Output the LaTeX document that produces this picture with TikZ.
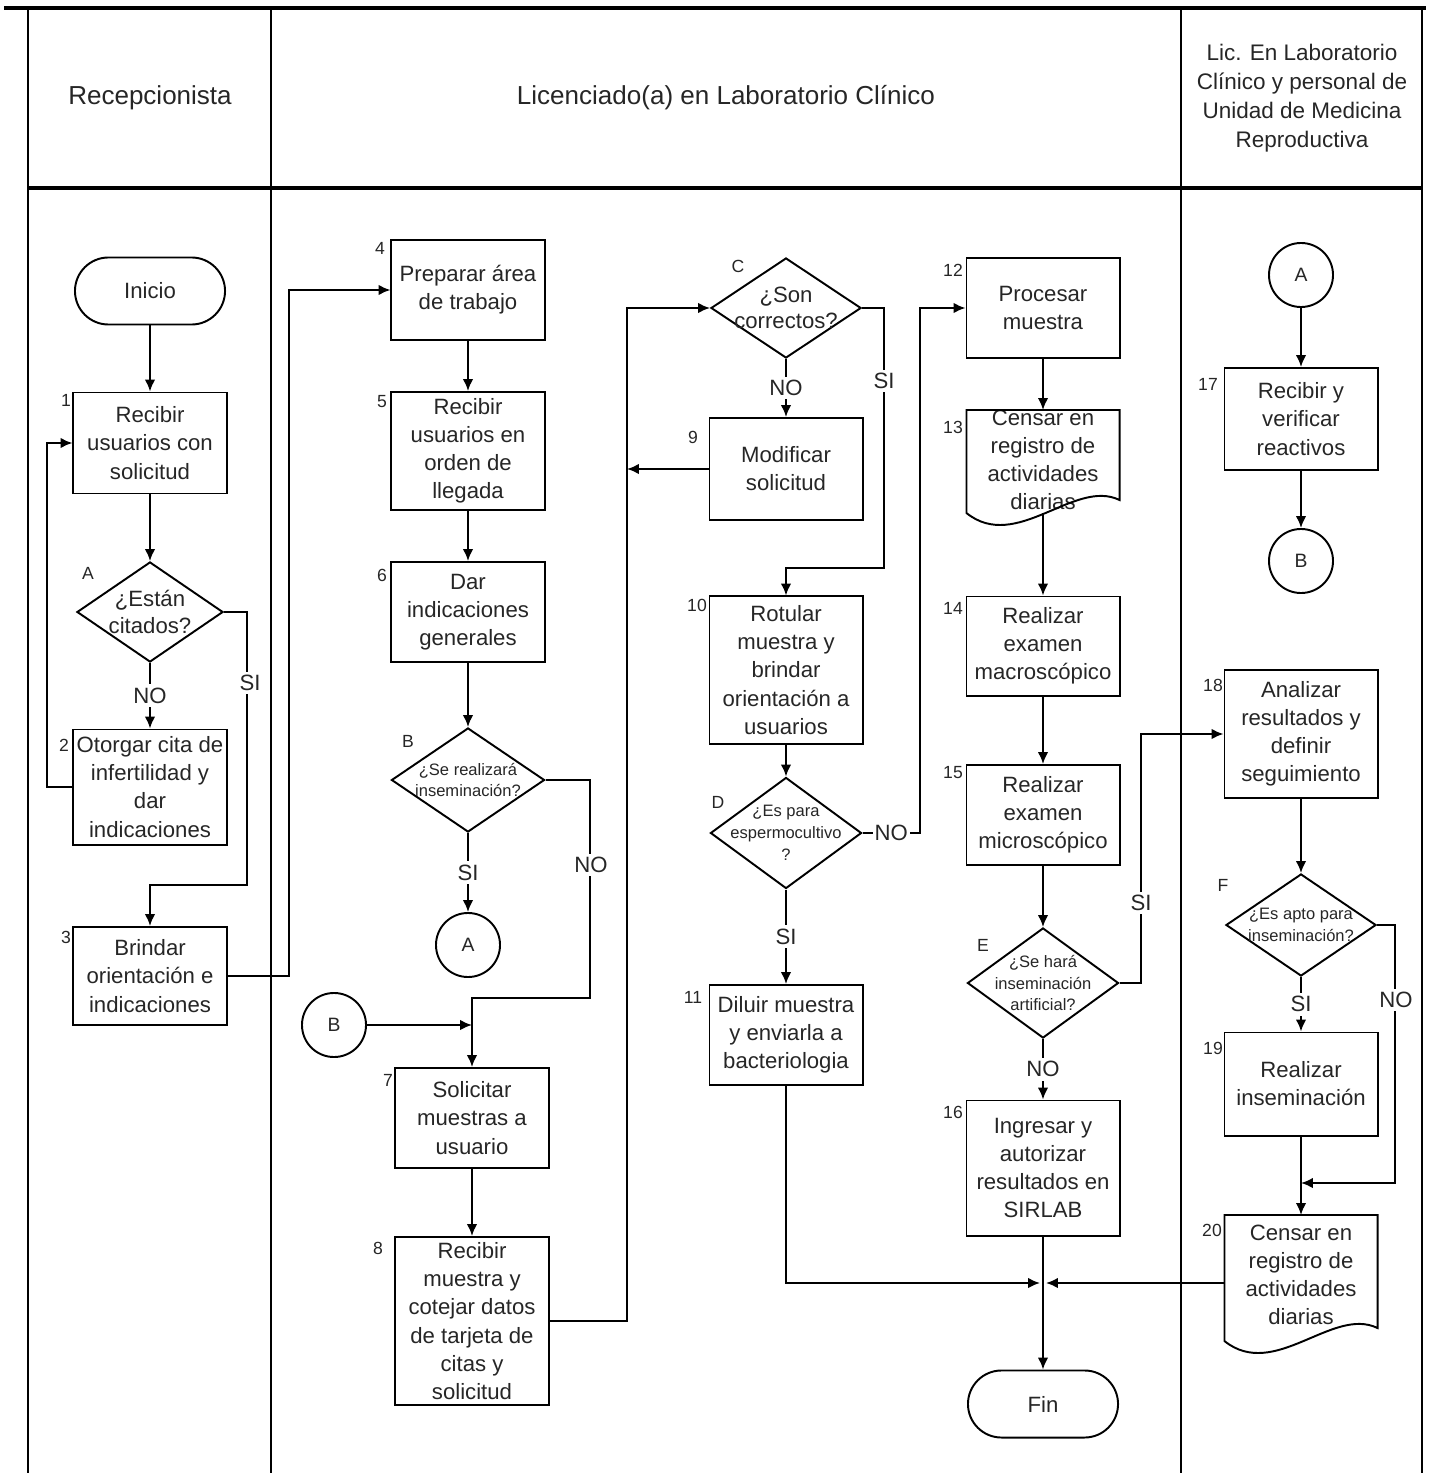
\documentclass[tikz,border=0pt]{standalone}
\usepackage{fontspec}
\setmainfont{Liberation Sans}
\usetikzlibrary{arrows.meta,shapes.geometric}

% outline of a document symbol round a node: name, top, right end, left end (cm)
\newcommand\docline[4]{%
  \coordinate (#1n) at ([yshift=#2cm]#1.center);
  \coordinate (#1s) at ([yshift=#4cm]#1.center);
  \coordinate (#1w) at ([xshift=-0.765cm]#1.center);
  \draw[line width=0.55pt] ([shift={(-0.765cm,#4cm)}]#1.center) -- ([shift={(-0.765cm,#2cm)}]#1.center)
    -- ([shift={(0.765cm,#2cm)}]#1.center) -- ([shift={(0.765cm,#3cm)}]#1.center)
    .. controls +(-0.45cm,0.22cm) and +(0.5cm,-0.4cm) .. ([shift={(-0.765cm,#4cm)}]#1.center) -- cycle;}

\begin{document}
\begin{tikzpicture}[x=0.01cm, y=-0.01cm,
    every node/.style={text=black!85},
    stepbox/.style={draw=black, rectangle, line width=0.55pt, minimum width=1.53cm, align=center, inner sep=1pt, font=\fontsize{6.3}{8}\selectfont},
    docbox/.style={rectangle, minimum width=1.53cm, align=center, inner sep=0pt, font=\fontsize{6.3}{8}\selectfont},
    terminal/.style={draw=black, rectangle, rounded corners=0.335cm, line width=0.55pt, minimum width=1.5cm, minimum height=0.67cm, font=\fontsize{6.3}{8}\selectfont},
    decision/.style={draw=black, diamond, line width=0.55pt, inner sep=0pt},
    dtext/.style={align=center, inner sep=0pt, font=\fontsize{6.3}{7.6}\selectfont},
    dsmall/.style={align=center, inner sep=0pt, font=\fontsize{4.7}{6.2}\selectfont},
    link/.style={draw=black, circle, line width=0.55pt, minimum size=0.64cm, inner sep=0pt, font=\fontsize{5.5}{6}\selectfont},
    tag/.style={inner sep=0pt, font=\fontsize{5}{6}\selectfont},
    cond/.style={fill=white, inner sep=1pt, font=\fontsize{6.3}{7}\selectfont},
    head/.style={align=center, font=\fontsize{7.4}{9}\selectfont},
    arr/.style={-{Latex[length=3.4pt,width=3pt]}, line width=0.55pt}]

\useasboundingbox (0,0) rectangle (1429,1473);

% lanes
\draw[line width=1.4pt] (4,8) -- (1426,8);
\draw[line width=0.9pt] (28,188) -- (1422,188);
\foreach \x in {28,271,1181,1422}
  \draw[line width=0.8pt] (\x,8) -- (\x,1473);
\node[head] (h1) at (150,98) {Recepcionista};
\node[head] (h2) at (726,98) {Licenciado(a) en Laboratorio Clínico};
\node[head, font=\fontsize{6.4}{8.2}\selectfont] (h3) at (1302,98) {Lic. En Laboratorio\\Clínico y personal de\\Unidad de Medicina\\Reproductiva};

% Recepcionista
\node[terminal] (ini) at (150,291) {Inicio};
\node[stepbox, minimum height=1.01cm] (b1) at (150,443) {Recibir\\usuarios con\\solicitud};
\node[decision, minimum width=1.46cm, minimum height=1.0cm, label={[dtext]center:{¿Están\\citados?}}] (dA) at (150,612) {};
\node[stepbox, minimum height=1.15cm] (b2) at (150,787) {Otorgar cita de\\infertilidad y\\dar\\indicaciones};
\node[stepbox, minimum height=0.98cm] (b3) at (150,976) {Brindar\\orientación e\\indicaciones};

% Licenciado(a)
\node[stepbox, minimum height=1.0cm] (b4) at (468,290) {Preparar área\\de trabajo};
\node[stepbox, minimum height=1.18cm] (b5) at (468,451) {Recibir\\usuarios en\\orden de\\llegada};
\node[stepbox, minimum height=1.0cm] (b6) at (468,612) {Dar\\indicaciones\\generales};
\node[decision, minimum width=1.53cm, minimum height=1.04cm, label={[dsmall]center:{¿Se realizará\\inseminación?}}] (dB) at (468,780) {};
\node[link] (cA) at (468,945) {A};
\node[link] (cB) at (334,1025) {B};
\node[stepbox, minimum height=1.0cm] (b7) at (472,1118) {Solicitar\\muestras a\\usuario};
\node[stepbox, minimum height=1.68cm] (b8) at (472,1321) {Recibir\\muestra y\\cotejar datos\\de tarjeta de\\citas y\\solicitud};

\node[decision, minimum width=1.5cm, minimum height=1.0cm, label={[dtext]center:{¿Son\\correctos?}}] (dC) at (786,308) {};
\node[stepbox, minimum height=1.02cm] (b9) at (786,469) {Modificar\\solicitud};
\node[stepbox, minimum height=1.47cm] (b10) at (786,670) {Rotular\\muestra y\\brindar\\orientación a\\usuarios};
\node[decision, minimum width=1.51cm, minimum height=1.11cm, label={[dsmall]center:{¿Es para\\espermocultivo\\?}}] (dD) at (786,833) {};
\node[stepbox, minimum height=1.0cm] (b11) at (786,1035) {Diluir muestra\\y enviarla a\\bacteriologia};

\node[stepbox, minimum height=1.0cm] (b12) at (1043,308) {Procesar\\muestra};
\node[docbox] (b13) at (1043,460) {Censar en\\registro de\\actividades\\diarias};
\node[stepbox, minimum height=0.99cm] (b14) at (1043,646) {Realizar\\examen\\macroscópico};
\node[stepbox, minimum height=1.0cm] (b15) at (1043,815) {Realizar\\examen\\microscópico};
\node[decision, minimum width=1.51cm, minimum height=1.1cm, label={[dsmall]center:{¿Se hará\\inseminación\\artificial?}}] (dE) at (1043,983) {};
\node[stepbox, minimum height=1.35cm] (b16) at (1043,1168) {Ingresar y\\autorizar\\resultados en\\SIRLAB};
\node[terminal] (fin) at (1043,1404) {Fin};

% Lic. y personal de Medicina Reproductiva
\node[link] (cA2) at (1301,275) {A};
\node[stepbox, minimum height=1.02cm] (b17) at (1301,419) {Recibir y\\verificar\\reactivos};
\node[link] (cB2) at (1301,561) {B};
\node[stepbox, minimum height=1.28cm] (b18) at (1301,734) {Analizar\\resultados y\\definir\\seguimiento};
\node[decision, minimum width=1.5cm, minimum height=1.02cm, label={[dsmall]center:{¿Es apto para\\inseminación?}}] (dF) at (1301,925) {};
\node[stepbox, minimum height=1.03cm] (b19) at (1301,1084) {Realizar\\inseminación};
\node[docbox] (b20) at (1301,1275) {Censar en\\registro de\\actividades\\diarias};

\docline{b13}{0.50}{-0.40}{-0.53}
\docline{b20}{0.60}{-0.53}{-0.66}

% step numbers and decision letters
\foreach \tg/\x/\y in {1/66/400, A/88/573, 2/64/745, 3/66/937, 4/380/248, 5/382/402, 6/382/575,
    B/408/741, 7/388/1080, 8/378/1248, C/738/266, 9/693/437, 10/697/605, D/718/802, 11/693/997,
    12/953/270, 13/953/427, 14/953/608, 15/953/773, E/983/945, 16/953/1112, 17/1208/384,
    18/1213/685, F/1223/885, 19/1213/1048, 20/1212/1230}
  \node[tag] (t\tg) at (\x,\y) {\tg};

% bend points
\coordinate (k1) at (247,885);
\coordinate (k2) at (289,600);
\coordinate (k3) at (590,998);
\coordinate (k4) at (627,800);
\coordinate (k5) at (884,568);
\coordinate (k6) at (920,600);
\coordinate (k7) at (1141,850);
\coordinate (k8) at (1395,1183);
\coordinate (jn) at (1043,1283);

% connectors
\draw[arr] (ini) -- (b1);
\draw[arr] (b1) -- (dA);
\draw[arr] (dA) -- node[cond] (noA) {NO} (b2);
\draw[arr] (b2.west) -- ++(-25,0) |- (b1.west);
\draw[arr] (dA.east) -| (k1) -| (b3.north);
\node[cond] (siA) at (250,683) {SI};
\draw[arr] (b3.east) -| (k2) |- (b4.west);

\draw[arr] (b4) -- (b5);
\draw[arr] (b5) -- (b6);
\draw[arr] (b6) -- (dB);
\draw[arr] (dB) -- node[cond] (siB) {SI} (cA);
\draw[arr] (dB.east) -| (k3) -| (b7.north);
\node[cond] (noB) at (591,865) {NO};
\draw[arr] (cB.east) -- (cB.east -| b7.north);
\draw[arr] (b7) -- (b8);
\draw[arr] (b8.east) -| (k4) |- (dC.west);

\draw[arr] (dC) -- node[cond] (noC) {NO} (b9);
\draw[arr] (b9.west) -- (b9.west -| k4);
\draw[arr] (dC.east) -| (k5) -| (b10.north);
\node[cond] (siC) at (884,381) {SI};
\draw[arr] (b10) -- (dD);
\draw[arr] (dD.east) -- node[cond, inner sep=0.5pt] (noD) {NO} (dD.east -| k6) |- (b12.west);
\draw[arr] (dD) -- node[cond] (siD) {SI} (b11);
\draw[arr] (b11.south) |- ([xshift=-0.03cm]jn);

\draw[arr] (b12) -- (b13n);
\draw[arr] (b13s) -- (b14);
\draw[arr] (b14) -- (b15);
\draw[arr] (b15) -- (dE);
\draw[arr] (dE) -- node[cond] (noE) {NO} (b16);
\draw[arr] (dE.east) -| (k7) |- (b18.west);
\node[cond] (siE) at (1141,903) {SI};
\draw[arr] (b16) -- (fin);

\draw[arr] (cA2) -- (b17);
\draw[arr] (b17) -- (cB2);
\draw[arr] (b18) -- (dF);
\draw[arr] (dF) -- node[cond] (siF) {SI} (b19);
\draw[arr] (dF.east) -| (k8) -- (k8 -| b19.south);
\node[cond] (noF) at (1396,1000) {NO};
\draw[arr] (b19) -- (b20n);
\draw[arr] (b20w |- jn) -- ([xshift=0.03cm]jn);
\end{tikzpicture}
\end{document}
